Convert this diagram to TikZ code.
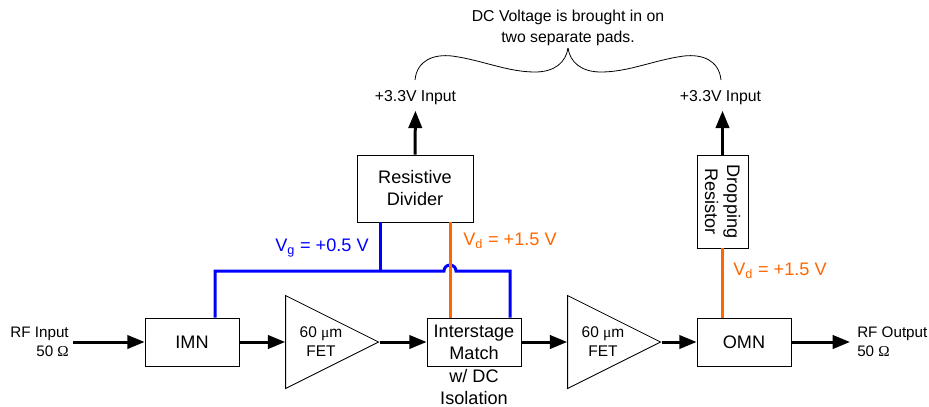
\documentclass[tikz,border=0pt]{standalone}
\usepackage{fontspec}
\setmainfont{Liberation Sans}
\newfontfamily\symfont{Liberation Serif}
\usepackage{tikz}
\usetikzlibrary{arrows.meta,shapes.geometric}
\definecolor{gatecol}{RGB}{0,0,255}
\definecolor{draincol}{RGB}{255,102,0}
\tikzset{
  block/.style={draw,line width=0.6pt,inner sep=0pt,align=center,font=\fontsize{13.6}{16.5}\selectfont},
  fet/.style={draw,line width=0.6pt,isosceles triangle,isosceles triangle apex angle=53.13,inner sep=0pt,
    minimum height=69.75pt,anchor=apex},
  fettext/.style={align=center,inner sep=0pt,font=\fontsize{11.6}{14}\selectfont},
  label/.style={align=center,inner sep=0pt,font=\fontsize{11.4}{14}\selectfont},
  bigl/.style={inner sep=0pt,font=\fontsize{13.6}{16.5}\selectfont},
  sig/.style={-{Stealth[length=13pt,width=10pt,inset=0pt]},line width=2.25pt},
  gate/.style={line width=2.25pt,gatecol},
  drain/.style={line width=2.25pt,draincol},
  brace/.style={line width=0.6pt},
}
\begin{document}
\begin{tikzpicture}[x=0.75pt,y=-0.75pt]
    \useasboundingbox (0,0) rectangle (929,407);

    % blocks
    \node[block,minimum width=70.5pt,minimum height=36pt] (imn) at (192,342) {IMN};
    \node[block,minimum width=70.5pt,minimum height=36pt] (ism) at (474,342) {Interstage\\Match};
    \node[block,minimum width=70.5pt,minimum height=36pt] (omn) at (744,342) {OMN};
    \node[block,minimum width=87pt,minimum height=50.25pt] (div) at (415,188.5) {Resistive\\Divider};
    \node[block,minimum width=69.75pt,minimum height=38.25pt,rotate=-90] (drop) at (722.5,201.5) {Dropping\\Resistor};
    \node[fet] (fet1) at (379.5,342) {};
    \node[fet] (fet2) at (661.5,342) {};
    \node[fettext] (fet1txt) at (321,341.5) {60 {\symfont μ}m\\FET};
    \node[fettext] (fet2txt) at (603,341.5) {60 {\symfont μ}m\\FET};

    % texts
    \node[label,align=right,anchor=east] (rfin) at (69,342) {RF Input\hspace{1.5pt}\\50 {\symfont Ω}};
    \node[label,align=left,anchor=west] (rfout) at (857,342) {RF Output\\50 {\symfont Ω}};
    \node[bigl,align=center,anchor=north] (iso) at (474,369) {w/ DC\\Isolation};
    \node[label,font=\fontsize{11.85}{15.2}\selectfont] (note) at (568,28) {DC Voltage is brought in on\\two separate pads.};
    \node[label,font=\fontsize{11.85}{14}\selectfont] (vdiv) at (415.5,98) {+3.3V Input};
    \node[label,font=\fontsize{11.85}{14}\selectfont] (vdrop) at (720.5,98) {+3.3V Input};
    \node[bigl,gatecol,anchor=west] (vg) at (275,248) {V\textsubscript{g} = +0.5 V};
    \node[bigl,draincol,anchor=west] (vd1) at (463,241) {V\textsubscript{d} = +1.5 V};
    \node[bigl,draincol,anchor=west] (vd2) at (733,271) {V\textsubscript{d} = +1.5 V};

    % signal path
    \coordinate (rfstart) at (73,342);
    \coordinate (rfend) at (850,342);
    \draw[sig] (rfstart) -- (imn.west);
    \draw[sig] (imn.east) -- (fet1.lower side);
    \draw[sig] (fet1.apex) -- (ism.west);
    \draw[sig] (ism.east) -- (fet2.lower side);
    \draw[sig] (fet2.apex) -- (omn.west);
    \draw[sig] (omn.east) -- (rfend);
    \draw[sig,shorten >=4pt] (div.north) -- (vdiv.south);
    \draw[sig,shorten >=4pt] (drop.west) -- (vdrop.south -| drop.west);

    % bias lines
    \coordinate (gl) at (215,271);
    \coordinate (gr) at (510,271);
    \draw[gate] (imn.north -| gl) -- (gl) -- (444,271) arc (180:360:6) -- (gr) -- (ism.north -| gr);
    \draw[gate] (div.south -| 380,0) -- (380,271);
    \draw[drain] (div.south -| 450,0) -- (ism.north -| 450,0);
    \draw[drain] (drop.east) -- (omn.north -| drop.east);

    % brace
    \coordinate (bl) at (415,80);
    \coordinate (bm) at (568,48);
    \coordinate (br) at (721,80);
    \draw[brace] (bl) .. controls (417,60) and (434,54) .. (452,56) .. controls (482,60) and (507,72) .. (535,72) .. controls (555,72) and (566,62) .. (bm);
    \draw[brace] (br) .. controls (719,60) and (702,54) .. (684,56) .. controls (654,60) and (629,72) .. (601,72) .. controls (581,72) and (570,62) .. (bm);
\end{tikzpicture}
\end{document}
